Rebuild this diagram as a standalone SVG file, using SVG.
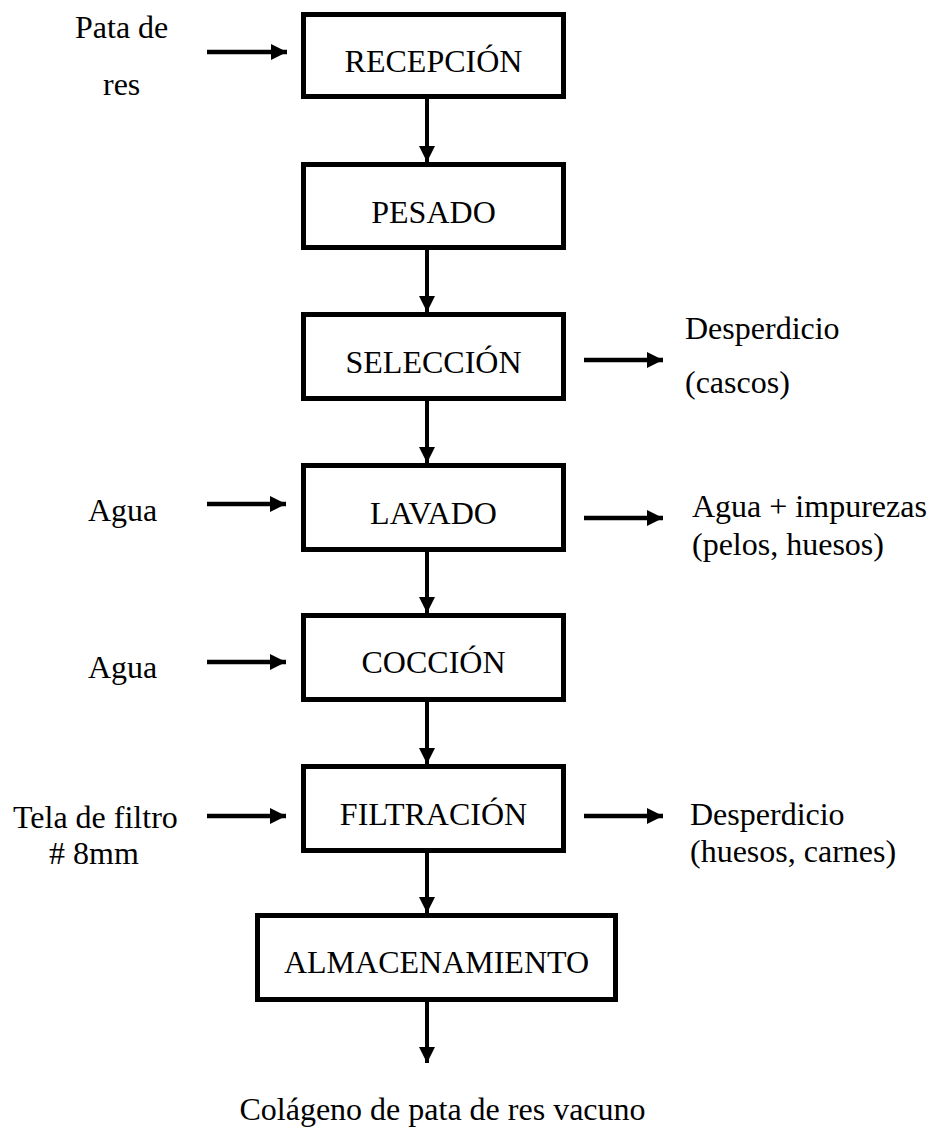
<svg xmlns="http://www.w3.org/2000/svg" width="933" height="1131" viewBox="0 0 933 1131">
<defs>
<style>
.box{fill:#fff;stroke:#000;stroke-width:5}
.t{font-family:"Liberation Serif","Times New Roman",serif;font-size:32px;fill:#000}
.m{text-anchor:middle}
.v{stroke:#000;stroke-width:4;fill:none}
.h{stroke:#000;stroke-width:4.3;fill:none}
</style>
<marker id="ah" markerUnits="userSpaceOnUse" markerWidth="16" markerHeight="16" refX="16" refY="8" orient="auto">
<path d="M0,0 L16,8 L0,16 z" fill="#000"/>
</marker>
</defs>
<rect width="933" height="1131" fill="#fff"/>
<g id="connectors">
<line class="v" x1="427" y1="99" x2="427" y2="162" marker-end="url(#ah)"/>
<line class="v" x1="427" y1="250" x2="427" y2="312" marker-end="url(#ah)"/>
<line class="v" x1="427" y1="401" x2="427" y2="463" marker-end="url(#ah)"/>
<line class="v" x1="427" y1="552" x2="427" y2="613" marker-end="url(#ah)"/>
<line class="v" x1="427" y1="702" x2="427" y2="764" marker-end="url(#ah)"/>
<line class="v" x1="427" y1="853" x2="427" y2="913" marker-end="url(#ah)"/>
<line class="v" x1="427" y1="1002" x2="427" y2="1063" marker-end="url(#ah)"/>
<line class="h" x1="207" y1="52" x2="287" y2="52" marker-end="url(#ah)"/>
<line class="h" x1="207" y1="504" x2="286" y2="504" marker-end="url(#ah)"/>
<line class="h" x1="207" y1="662" x2="286" y2="662" marker-end="url(#ah)"/>
<line class="h" x1="207" y1="816" x2="286" y2="816" marker-end="url(#ah)"/>
<line class="h" x1="584" y1="360" x2="663" y2="360" marker-end="url(#ah)"/>
<line class="h" x1="584" y1="518" x2="663" y2="518" marker-end="url(#ah)"/>
<line class="h" x1="584" y1="816" x2="663" y2="816" marker-end="url(#ah)"/>
</g>
<g id="recepcion">
<rect class="box" x="303.5" y="14.5" width="260" height="82"/>
<text class="t m" x="433.5" y="72">RECEPCIÓN</text>
</g>
<g id="pesado">
<rect class="box" x="303.5" y="164.5" width="260" height="83"/>
<text class="t m" x="433.5" y="223">PESADO</text>
</g>
<g id="seleccion">
<rect class="box" x="303.5" y="314.5" width="260" height="84"/>
<text class="t m" x="433.5" y="373">SELECCIÓN</text>
</g>
<g id="lavado">
<rect class="box" x="303.5" y="465.5" width="260" height="84"/>
<text class="t m" x="433.5" y="524">LAVADO</text>
</g>
<g id="coccion">
<rect class="box" x="303.5" y="615.5" width="260" height="84"/>
<text class="t m" x="433.5" y="673">COCCIÓN</text>
</g>
<g id="filtracion">
<rect class="box" x="303.5" y="766.5" width="260" height="84"/>
<text class="t m" x="433.5" y="825">FILTRACIÓN</text>
</g>
<g id="almacenamiento">
<rect class="box" x="257.5" y="915.5" width="358" height="84"/>
<text class="t m" x="436.5" y="973">ALMACENAMIENTO</text>
</g>
<g id="labels">
<text class="t" x="75" y="38">Pata de</text>
<text class="t" x="103" y="95">res</text>
<text class="t" x="88" y="521">Agua</text>
<text class="t" x="88" y="678">Agua</text>
<text class="t" x="13" y="828">Tela de filtro</text>
<text class="t" x="49" y="864"># 8mm</text>
<text class="t" x="685" y="339">Desperdicio</text>
<text class="t" x="685" y="393">(cascos)</text>
<text class="t" x="692" y="517">Agua + impurezas</text>
<text class="t" x="692" y="555">(pelos, huesos)</text>
<text class="t" x="690" y="825">Desperdicio</text>
<text class="t" x="690" y="862">(huesos, carnes)</text>
<text class="t m" x="442.5" y="1120">Colágeno de pata de res vacuno</text>
</g>
</svg>
